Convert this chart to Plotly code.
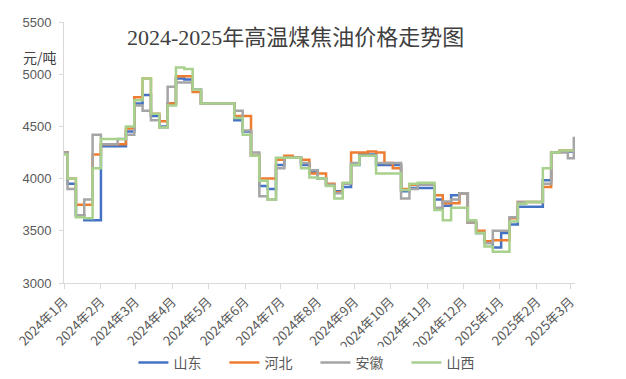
import plotly.graph_objects as go
import pandas as pd

# x: start of year, then weekly observation dates, then final date
start_date = ["2024-01-01"]
week_dates = [d.strftime("%Y-%m-%d") for d in pd.date_range("2024-01-04", periods=61, freq="7D")]
end_date = ["2025-03-04"]
dates = start_date + week_dates + end_date

shandong = [4250,
    3950, 3650, 3600, 3600, 4310, 4310, 4310, 4450, 4720, 4800,
    4600, 4500, 4720, 4960, 4950, 4850, 4720, 4720, 4720, 4720,
    4560, 4450, 4220, 3930, 3900, 4130, 4200, 4200, 4130, 4060,
    4000, 3940, 3880, 3920, 4130, 4230, 4230, 4130, 4130, 4130,
    3880, 3910, 3910, 3910, 3800, 3740, 3840, 3860, 3580, 3480,
    3400, 3340, 3480, 3560, 3730, 3730, 3730, 3985, 4250, 4260,
    4260, 4260]
hebei = [4250,
    4000, 3750, 3750, 4230, 4330, 4330, 4330, 4480, 4780, 4960,
    4620, 4550, 4720, 4980, 4980, 4830, 4720, 4720, 4720, 4720,
    4600, 4600, 4220, 4000, 4000, 4180, 4220, 4200, 4180, 4050,
    4050, 3950, 3870, 3950, 4250, 4250, 4260, 4250, 4150, 4100,
    3900, 3940, 3940, 3940, 3840, 3765, 3765, 3860, 3580, 3500,
    3400, 3410, 3410, 3620, 3775, 3775, 3775, 3920, 4250, 4270,
    4270, 4270]
anhui = [4250,
    3900, 3650, 3800, 4420, 4330, 4330, 4380, 4420, 4700, 4650,
    4560, 4490, 4880, 4920, 4920, 4850, 4720, 4720, 4720, 4720,
    4650, 4460, 4250, 3830, 3800, 4100, 4200, 4200, 4150, 4080,
    4000, 3940, 3860, 3950, 4150, 4220, 4220, 4150, 4150, 4150,
    3810, 3900, 3940, 3940, 3720, 3780, 3800, 3860, 3580, 3480,
    3380, 3500, 3500, 3630, 3775, 3775, 3775, 3950, 4250, 4250,
    4195, 4400]
shanxi = [4230,
    4000, 3630, 3620, 4100, 4380, 4380, 4380, 4500, 4750, 4960,
    4620, 4490, 4700, 5065, 5050, 4850, 4720, 4720, 4720, 4720,
    4580, 4420, 4220, 3980, 3800, 4200, 4200, 4200, 4100, 4010,
    4000, 3930, 3810, 3960, 4130, 4220, 4220, 4050, 4050, 4050,
    3890, 3950, 3960, 3960, 3700, 3600, 3720, 3720, 3600, 3480,
    3350, 3300, 3300, 3590, 3760, 3775, 3775, 4100, 4250, 4270,
    4270, 4270]

series_names = ["山东", "河北", "安徽", "山西"]
series_colors = ["#4472C4", "#ED7D31", "#A5A5A5", "#A9D18E"]

tick_dates = [d.strftime("%Y-%m-%d") for d in pd.date_range("2024-01-01", periods=15, freq="MS")]
tick_text = ["2024年1月", "2024年2月", "2024年3月", "2024年4月", "2024年5月", "2024年6月",
             "2024年7月", "2024年8月", "2024年9月", "2024年10月", "2024年11月", "2024年12月",
             "2025年1月", "2025年2月", "2025年3月"]

fig = go.Figure()
for name, vals, col in zip(series_names, [shandong, hebei, anhui, shanxi], series_colors):
    fig.add_trace(go.Scatter(x=dates, y=vals, name=name, mode="lines",
                             line=dict(color=col, width=2.5, shape="hv")))

fig.update_layout(
    width=626, height=379,
    margin=dict(l=64, r=51, t=22, b=96, autoexpand=False),
    paper_bgcolor="white", plot_bgcolor="white",
    font=dict(family="Liberation Sans, Noto Sans CJK SC", color="#595959"),
    showlegend=True,
    legend=dict(orientation="h", x=0.492, xanchor="center", y=-0.306, yanchor="middle",
                font=dict(size=14, family="Noto Sans CJK SC", color="#595959"),
                itemwidth=30, tracegroupgap=0, entrywidth=46, entrywidthmode="pixels"),
    annotations=[
        dict(text="2024-2025年高温煤焦油价格走势图", x=0.454, y=0.9425, xref="paper", yref="paper",
             showarrow=False, xanchor="center", yanchor="middle",
             font=dict(size=22, family="Liberation Serif, Noto Sans CJK SC", color="#404040")),
        dict(text="元/吨", x=-0.047, y=0.865, xref="paper", yref="paper", showarrow=False,
             xanchor="center", yanchor="middle",
             font=dict(size=14, family="Noto Sans CJK SC", color="#404040")),
    ],
)
fig.update_xaxes(type="date", range=["2024-01-01", "2025-03-05"], automargin=False,
                 tickvals=tick_dates, ticktext=tick_text, tickangle=-45,
                 tickfont=dict(size=13, family="Noto Sans CJK SC", color="#595959"),
                 showgrid=False, showline=True, linecolor="#D9D9D9", linewidth=1,
                 ticks="outside", ticklen=5, tickcolor="#D9D9D9", zeroline=False)
fig.update_yaxes(range=[3000, 5500], dtick=500, tick0=3000, automargin=False,
                 tickfont=dict(size=13, family="Liberation Sans", color="#595959"),
                 showgrid=False, showline=True, linecolor="#D9D9D9", linewidth=1,
                 ticks="outside", ticklen=4, tickcolor="#D9D9D9", zeroline=False,
                 ticklabelstandoff=5)

fig.write_html("out.html")
